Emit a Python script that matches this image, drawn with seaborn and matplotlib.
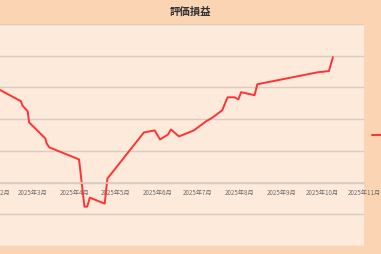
import matplotlib
matplotlib.use("Agg")
import matplotlib.pyplot as plt
import matplotlib.dates as mdates
import seaborn as sns
import pandas as pd

# ---- data ----
dates = ["2025-02-01", "2025-02-20", "2025-02-21", "2025-02-25", "2025-02-26",
         "2025-03-10", "2025-03-11", "2025-03-13", "2025-04-04", "2025-04-08",
         "2025-04-10", "2025-04-12", "2025-04-23", "2025-04-25", "2025-05-22",
         "2025-05-30", "2025-06-03", "2025-06-09", "2025-06-11", "2025-06-17",
         "2025-06-28", "2025-07-07", "2025-07-12", "2025-07-19", "2025-07-23",
         "2025-07-28", "2025-07-31", "2025-08-02", "2025-08-12", "2025-08-14",
         "2025-09-28", "2025-10-06", "2025-10-09"]
values = [60000, 51300, 48700, 44900, 38000,
          27800, 24700, 22200, 14600, -15200,
          -15200, -9500, -13300, 2500, 31600,
          32900, 27200, 30400, 33500, 29100,
          32900, 38600, 41100, 45600, 53800,
          53800, 52500, 57000, 55100, 62000,
          69600, 70300, 79100]
series_name = "評価損益"
title_text = "評価損益"
month_ticks = ["2025-02-01", "2025-03-01", "2025-04-01", "2025-05-01", "2025-06-01",
               "2025-07-01", "2025-08-01", "2025-09-01", "2025-10-01", "2025-11-01"]
month_labels = ["2025年2月", "2025年3月", "2025年4月", "2025年5月", "2025年6月",
                "2025年7月", "2025年8月", "2025年9月", "2025年10月", "2025年11月"]
y_ticks = [-40000, -20000, 0, 20000, 40000, 60000, 80000, 100000]

df = pd.DataFrame({"date": pd.to_datetime(dates), "value": values, "series": series_name})

sns.set_theme(style="white")
plt.rcParams['font.family'] = ['Noto Sans CJK JP', 'DejaVu Sans']

OUTER = "#FBD4B4"
PLOT_BG = "#FDEADA"
GRID = "#D9CCC1"
RED = "#FF3333"

fig = plt.figure(figsize=(3.81, 2.54), dpi=100, facecolor=OUTER)
ax = fig.add_axes([-4.7 / 381, 8 / 254, 368.7 / 381, 222 / 254])
ax.set_facecolor(PLOT_BG)

sns.lineplot(data=df, x="date", y="value", hue="series", palette=[RED],
             linewidth=1.4, ax=ax, legend=True)

ax.set_xlim(pd.Timestamp("2025-02-01"), pd.Timestamp("2025-11-01"))
ax.set_ylim(-40000, 100000)
ax.set_yticks(y_ticks)
ax.yaxis.grid(True, color=GRID, linewidth=1.0)
ax.xaxis.grid(False)
ax.set_axisbelow(True)

ax.set_xticks(pd.to_datetime(month_ticks))
ax.set_xticklabels(month_labels)
ax.tick_params(axis="x", labelsize=4.5, colors="#6E6E6E", length=2.5, width=0.6,
               color=GRID, pad=2, direction="out")
ax.tick_params(axis="y", left=False, labelleft=False)

ax.spines["bottom"].set_position(("data", 0))
ax.spines["bottom"].set_color(GRID)
for s in ["left", "right", "top"]:
    ax.spines[s].set_visible(False)

ax.set_xlabel("")
ax.set_ylabel("")

fig.text(190 / 381, 1 - 12 / 254, title_text, ha="center", va="center",
         fontsize=7.5, fontweight="bold", color="#333333")

leg = ax.get_legend()
if leg is not None:
    leg.remove()
handles, labels = ax.get_legend_handles_labels()
fig.legend(handles, labels, loc="center left", bbox_to_anchor=(372 / 381, 1 - 135 / 254),
           frameon=False, borderpad=0, borderaxespad=0, handlelength=2.0,
           fontsize=7, handletextpad=0.5)

fig.savefig("out.png", dpi=100, facecolor=OUTER)
